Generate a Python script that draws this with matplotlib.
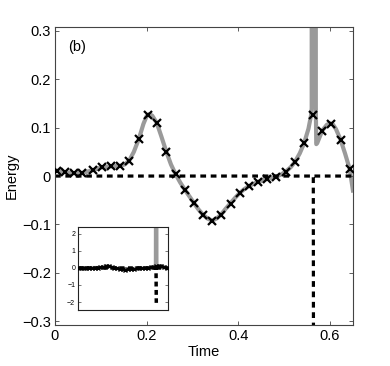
import matplotlib
matplotlib.use("Agg")
import matplotlib.pyplot as plt

plt.rcParams['font.family'] = ['Liberation Sans', 'DejaVu Sans']

# gray curve (simulation)
t_curve = [0.0, 0.004, 0.022, 0.040, 0.058, 0.070, 0.082, 0.102, 0.122, 0.141,
           0.152, 0.162, 0.172, 0.183, 0.193, 0.200, 0.205, 0.212, 0.222, 0.232,
           0.243, 0.253, 0.263, 0.273, 0.283, 0.294, 0.304, 0.313, 0.323, 0.333,
           0.343, 0.352, 0.362, 0.372, 0.383, 0.393, 0.403, 0.413, 0.4225, 0.442,
           0.463, 0.483, 0.493, 0.503, 0.514, 0.524, 0.534, 0.5435, 0.553, 0.5585,
           0.5600, 0.5605, 0.5685, 0.5690, 0.5700, 0.5720, 0.583, 0.593, 0.600, 0.606,
           0.613, 0.623, 0.633, 0.643, 0.650]
e_curve = [0.012, 0.011, 0.008, 0.006, 0.006, 0.009, 0.012, 0.018, 0.020, 0.021,
           0.024, 0.032, 0.050, 0.077, 0.108, 0.124, 0.128, 0.125, 0.110, 0.082,
           0.050, 0.024, 0.004, -0.013, -0.028, -0.043, -0.057, -0.069, -0.080, -0.088,
           -0.092, -0.088, -0.080, -0.068, -0.056, -0.045, -0.035, -0.027, -0.021, -0.012,
           -0.006, -0.001, 0.003, 0.009, 0.018, 0.030, 0.047, 0.068, 0.098, 0.125,
           0.14, 2.8, 2.8, 0.14, 0.066, 0.068, 0.094, 0.106, 0.109, 0.107,
           0.097, 0.075, 0.046, 0.014, -0.030]

# x markers (model)
t_mark = [0.004, 0.022, 0.0415, 0.058, 0.082, 0.102, 0.122, 0.141, 0.162, 0.183,
          0.203, 0.222, 0.243, 0.263, 0.283, 0.304, 0.323, 0.343, 0.362, 0.383,
          0.403, 0.4225, 0.442, 0.463, 0.483, 0.503, 0.524, 0.5435, 0.563, 0.583,
          0.603, 0.623, 0.643]
e_mark = [0.011, 0.008, 0.0055, 0.0055, 0.0125, 0.019, 0.021, 0.021, 0.031, 0.077,
          0.127, 0.110, 0.050, 0.004, -0.028, -0.056, -0.080, -0.092, -0.080, -0.057,
          -0.035, -0.020, -0.012, -0.006, -0.0015, 0.008, 0.030, 0.068, 0.127, 0.094,
          0.107, 0.074, 0.014]

# dashed black line (drop near t=0.564, then zero again)
t_dash = [0.0, 0.5635, 0.5655, float('nan'), 0.5660, 0.65]
e_dash = [0.0, 0.0, -2.05, float('nan'), 0.0, 0.0]

main_xticks = [0, 0.2, 0.4, 0.6]
main_xlabels = ['0', '0.2', '0.4', '0.6']
main_yticks = [-0.3, -0.2, -0.1, 0, 0.1, 0.2, 0.3]
main_ylabels = ['\u22120.3', '\u22120.2', '\u22120.1', '0', '0.1', '0.2', '0.3']
inset_yticks = [-2, -1, 0, 1, 2]
inset_ylabels = ['\u22122', '\u22121', '0', '1', '2']

gray = '#9a9a9a'

fig = plt.figure(figsize=(3.9, 3.66), dpi=100)
ax = fig.add_axes([0.141, 0.112, 0.764, 0.814])

ax.plot(t_curve, e_curve, color=gray, lw=3.0, solid_joinstyle='round', zorder=1)
ax.plot(t_dash, e_dash, color='black', lw=2.3, dashes=(1.8, 1.45), zorder=2)
ax.plot(t_mark, e_mark, 'x', color='black', ms=6, mew=1.6, zorder=3)

ax.set_xlim(0, 0.65)
ax.set_ylim(-0.308, 0.308)
ax.set_xticks(main_xticks)
ax.set_xticklabels(main_xlabels)
ax.set_yticks(main_yticks)
ax.set_yticklabels(main_ylabels)
ax.tick_params(direction='in', top=True, right=True, length=3, width=0.6,
               labelsize=10.5, pad=3, color='#444444')
for s in ax.spines.values():
    s.set_linewidth(0.8)
    s.set_color('#444444')
ax.set_xlabel('Time', fontsize=10.5, labelpad=1)
ax.set_ylabel('Energy', fontsize=10.5, labelpad=2)
ax.text(0.045, 0.933, '(b)', transform=ax.transAxes, fontsize=10.5,
        ha='left', va='center')

# inset
ins = fig.add_axes([78 / 390, 1 - 310 / 366, 90 / 390, 83 / 366])
ins.plot(t_curve, e_curve, color=gray, lw=2.5, zorder=1)
ins.plot(t_dash, e_dash, color='black', lw=2.5, dashes=(1.4, 1.0), zorder=2)
ins.plot(t_mark, e_mark, 'x', color='black', ms=2.5, mew=1.0, zorder=3)
ins.set_xlim(0, 0.65)
ins.set_ylim(-2.47, 2.41)
ins.set_xticks([])
ins.set_yticks(inset_yticks)
ins.set_yticklabels(inset_ylabels)
ins.tick_params(direction='in', right=True, length=2, width=0.5,
                labelsize=5, pad=2, color='#444444')
for s in ins.spines.values():
    s.set_linewidth(0.8)
    s.set_color('#222222')

fig.savefig('out.png', dpi=100)
